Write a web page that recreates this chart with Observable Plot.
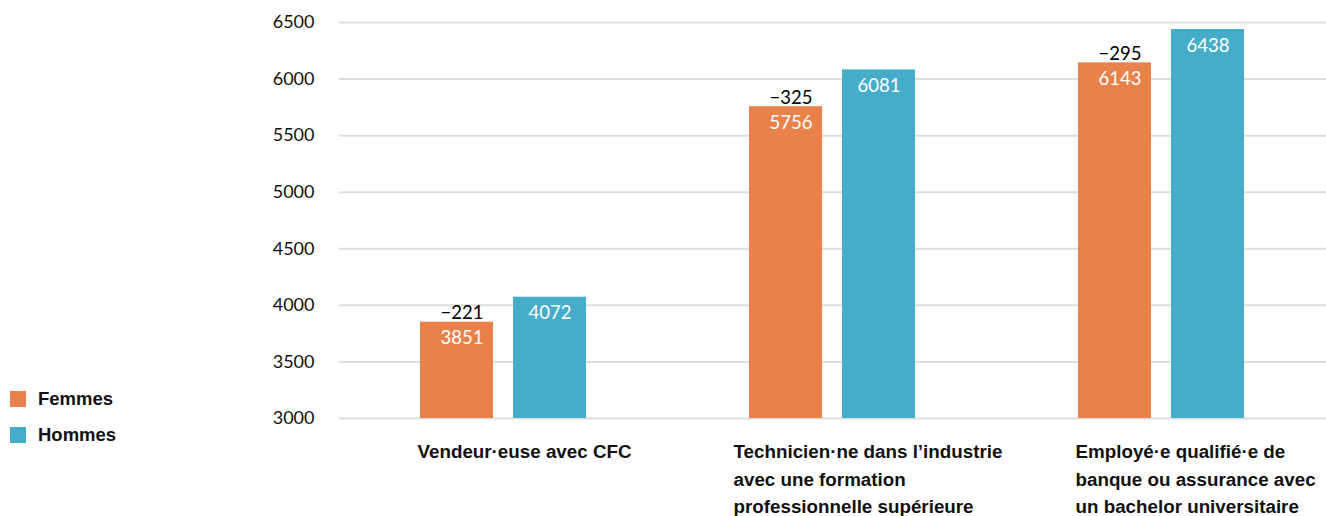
<!DOCTYPE html>
<html>
<head>
<meta charset="utf-8">
<script src="https://cdn.jsdelivr.net/npm/d3@7"></script>
<script src="https://cdn.jsdelivr.net/npm/@observablehq/plot@0.6"></script>
<style>
  html, body { margin: 0; padding: 0; background: #fff; }
  #wrap { position: relative; width: 1326px; height: 516px; }
  #legend { position: absolute; left: 10px; top: 381px; font-family: "Liberation Sans", Arial, sans-serif; font-weight: bold; font-size: 18.5px; color: #111; }
  #legend .item { display: flex; align-items: center; height: 36px; }
  #legend .sw { width: 16px; height: 16px; margin-right: 12px; }
</style>
</head>
<body>
<div id="wrap"><div id="chart"></div><div id="legend"></div></div>
<script>
const categories = [
  "Vendeur·euse avec CFC",
  "Technicien·ne dans l’industrie\navec une formation\nprofessionnelle supérieure",
  "Employé·e qualifié·e de\nbanque ou assurance avec\nun bachelor universitaire"
];
const series = ["Femmes", "Hommes"];
const femmes = [3851, 5756, 6143];
const hommes = [4072, 6081, 6438];
const diffs = [-221, -325, -295];
const yTicks = [3000, 3500, 4000, 4500, 5000, 5500, 6000, 6500];
const colors = ["#e8824a", "#45adc9"];

const rows = categories.flatMap((c, i) => [
  {cat: c, sex: series[0], value: femmes[i]},
  {cat: c, sex: series[1], value: hommes[i]}
]);
const fRows = categories.map((c, i) => ({cat: c, sex: series[0], value: femmes[i], diff: diffs[i]}));
const hRows = categories.map((c, i) => ({cat: c, sex: series[1], value: hommes[i]}));
const fmt = d3.format("d");
const base = yTicks[0];

const labelStyle = {
  fx: d => d, text: d => d, frameAnchor: "bottom-left", textAnchor: "start", lineAnchor: "top",
  dy: 20, lineHeight: 1.47, fontFamily: "'Liberation Sans', Arial, sans-serif",
  fontWeight: "bold", fontSize: 18.8, fill: "#111"
};

const chart = Plot.plot({
  width: 1326,
  height: 516,
  marginLeft: 339,
  marginRight: 0,
  marginTop: 22,
  marginBottom: 98,
  fx: {domain: categories, padding: 0, axis: null},
  x: {domain: series, paddingInner: 0.215, paddingOuter: 0.876, axis: null},
  y: {domain: [yTicks[0], yTicks[yTicks.length - 1]], ticks: yTicks, tickSize: 0, tickPadding: 25, label: null, tickFormat: d => String(d)},
  color: {domain: series, range: colors},
  style: {fontFamily: "Lato, 'Open Sans', sans-serif", fontSize: "18px", color: "#111", background: "white"},
  marks: [
    Plot.ruleY(yTicks, {stroke: "#dddddd", strokeWidth: 2}),
    Plot.barY(rows, {fx: "cat", x: "sex", y1: () => base, y2: "value", fill: "sex"}),
    Plot.text(fRows, {fx: "cat", x: "sex", y: "value", text: d => fmt(d.value), fill: "white", lineAnchor: "top", dy: 9, dx: 5, fontSize: 18.5}),
    Plot.text(hRows, {fx: "cat", x: "sex", y: "value", text: d => fmt(d.value), fill: "white", lineAnchor: "top", dy: 9, fontSize: 18.5}),
    Plot.text(fRows, {fx: "cat", x: "sex", y: "value", text: d => fmt(d.diff), fill: "#000", lineAnchor: "bottom", dy: -3, dx: 5, fontSize: 18.5}),
    Plot.text(categories.filter((d, i) => i !== 1), {...labelStyle, dx: 78}),
    Plot.text(categories.filter((d, i) => i === 1), {...labelStyle, dx: 65})
  ]
});
document.getElementById("chart").appendChild(chart);

const legend = document.getElementById("legend");
series.forEach((s, i) => {
  const item = document.createElement("div");
  item.className = "item";
  const sw = document.createElement("span");
  sw.className = "sw";
  sw.style.background = colors[i];
  const lab = document.createElement("span");
  lab.textContent = s;
  item.appendChild(sw);
  item.appendChild(lab);
  legend.appendChild(item);
});
</script>
</body>
</html>
